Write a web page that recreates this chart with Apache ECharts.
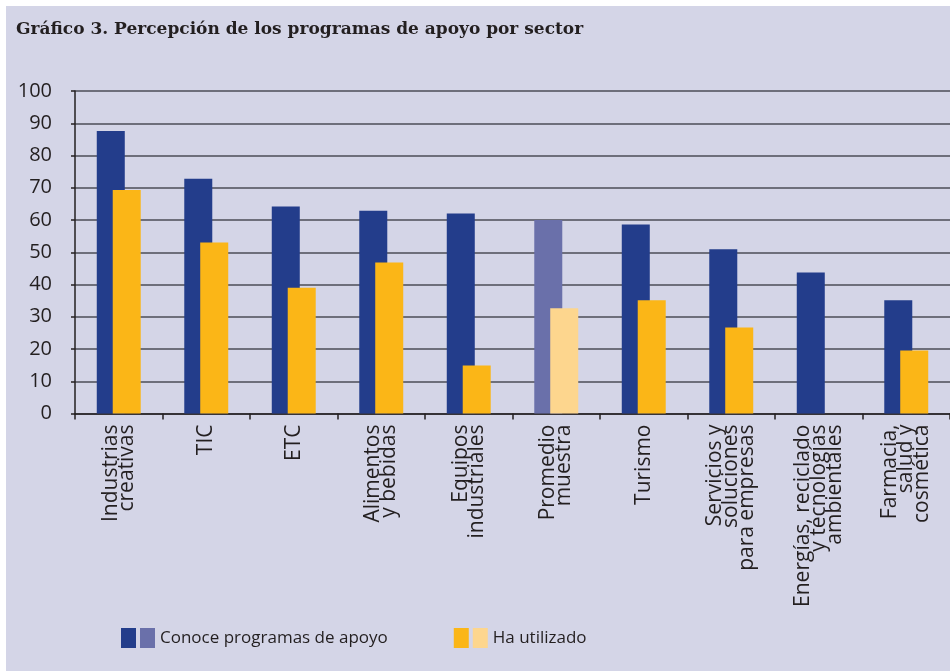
<!DOCTYPE html>
<html>
<head>
<meta charset="utf-8">
<script src="https://cdn.jsdelivr.net/npm/echarts@6/dist/echarts.min.js"></script>
<style>
  html, body { margin: 0; padding: 0; background: #ffffff; }
  #chart {
    position: absolute;
    left: 6px;
    top: 6px;
    width: 944px;
    height: 665px;
    background: #d4d5e7;
  }
</style>
</head>
<body>
<div id="chart"></div>
<script>
const sectors = [
  'Industrias\ncreativas',
  'TIC',
  'ETC',
  'Alimentos\ny bebidas',
  'Equipos\nindustriales',
  'Promedio\nmuestra',
  'Turismo',
  'Servicios y\nsoluciones\npara empresas',
  'Energías, reciclado\ny tecnologías\nambientales',
  'Farmacia,\nsalud y\ncosmética',
]
const conoce = [87.6, 72.8, 64.2, 62.9, 62.0, 60.0, 58.6, 50.9, 43.7, 35.1]
const utilizado = [69.3, 53.0, 39.0, 46.8, 14.9, 32.6, 35.1, 26.7, null, 19.5]
const yTicks = [0, 10, 20, 30, 40, 50, 60, 70, 80, 90, 100]

const averageIndex = 5
const darkBlue = '#233d8b'
const lightBlue = '#6a70aa'
const orange = '#fbb617'
const lightOrange = '#fdd68e'

const font = '"Open Sans", "Noto Sans", sans-serif'

function buildData(values, highlight) {
  return values.map((v, i) =>
    i === averageIndex ? { value: v, itemStyle: { color: highlight } } : v
  )
}

const chart = echarts.init(document.getElementById('chart'), null, { renderer: 'canvas' })

const option = {
  animation: false,
  title: {
    text: 'Gráfico 3. Percepción de los programas de apoyo por sector',
    left: 5,
    top: 10,
    textStyle: {
      fontFamily: '"DejaVu Serif", serif',
      fontWeight: 'bold',
      fontSize: 17,
      color: '#231f20',
    },
  },
  legend: {
    left: 110,
    top: 617,
    icon: 'rect',
    itemWidth: 15,
    itemHeight: 20,
    itemGap: 66,
    data: ['Conoce programas de apoyo', 'Ha utilizado'],
    formatter: (name) =>
      name === 'Ha utilizado' ? '{o|}{t|' + name + '}' : '{b|}{t|' + name + '}',
    textStyle: {
      fontFamily: font,
      fontSize: 17,
      color: '#231f20',
      padding: [0, 0, 0, -1],
      rich: {
        b: { width: 15, height: 20, backgroundColor: lightBlue },
        o: { width: 15, height: 20, backgroundColor: lightOrange },
        t: { fontFamily: font, fontSize: 17, color: '#231f20', padding: [0, 0, 0, 5] },
      },
    },
  },
  grid: {
    left: 69,
    top: 85,
    width: 877,
    height: 322.5,
    containLabel: false,
  },
  xAxis: {
    type: 'category',
    data: sectors,
    axisLine: { lineStyle: { color: '#231f20', width: 1.5 } },
    axisTick: { show: true, length: 6, interval: 0, lineStyle: { color: '#231f20', width: 1.5 } },
    axisLabel: {
      interval: 0,
      rotate: 90,
      margin: 11,
      fontFamily: font,
      fontSize: 21,
      lineHeight: 16,
      color: '#231f20',
    },
  },
  yAxis: {
    type: 'value',
    min: yTicks[0],
    max: yTicks[yTicks.length - 1],
    interval: 10,
    axisLine: { show: true, lineStyle: { color: '#231f20', width: 1.5 } },
    axisTick: { show: true, length: 4, lineStyle: { color: '#231f20', width: 1.5 } },
    axisLabel: {
      margin: 23,
      fontFamily: font,
      fontSize: 20,
      color: '#231f20',
    },
    splitLine: { lineStyle: { color: '#4d4d57', width: 1.5 } },
  },
  series: [
    {
      name: 'Conoce programas de apoyo',
      type: 'bar',
      barWidth: 28,
      barGap: '-43%',
      itemStyle: { color: darkBlue },
      data: buildData(conoce, lightBlue),
    },
    {
      name: 'Ha utilizado',
      type: 'bar',
      barWidth: 28,
      itemStyle: { color: orange },
      data: buildData(utilizado, lightOrange),
    },
  ],
}

chart.setOption(option)
window.addEventListener('resize', () => chart.resize())
</script>
</body>
</html>
